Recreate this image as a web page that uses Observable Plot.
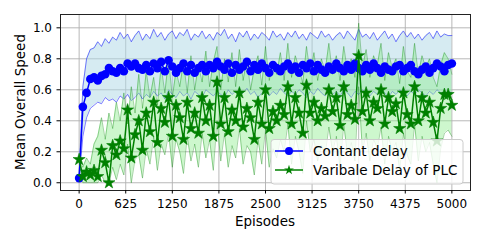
<!DOCTYPE html>
<html><head><meta charset="utf-8">
<script src="https://cdn.jsdelivr.net/npm/d3@7"></script>
<script src="https://cdn.jsdelivr.net/npm/@observablehq/plot@0.6"></script>
<style>body{margin:0;background:#fff;} svg{display:block}</style>
</head><body><div id="chart"></div>
<script>
const episodes = d3.range(0, 5001, 50);
const xTicks = [0, 625, 1250, 1875, 2500, 3125, 3750, 4375, 5000];
const yTicks = [0, 0.2, 0.4, 0.6, 0.8, 1.0];

const blueMean = [0.03,0.49,0.58,0.67,0.68,0.66,0.69,0.70,0.74,0.72,0.71,0.74,0.72,0.77,0.75,0.77,0.74,0.73,0.76,0.72,0.77,0.74,0.78,0.72,0.79,0.75,0.71,0.74,0.77,0.72,0.76,0.71,0.74,0.76,0.72,0.76,0.74,0.78,0.75,0.73,0.77,0.71,0.76,0.73,0.75,0.78,0.72,0.76,0.73,0.77,0.74,0.71,0.76,0.74,0.72,0.75,0.77,0.73,0.75,0.71,0.76,0.74,0.77,0.72,0.76,0.73,0.71,0.75,0.73,0.77,0.74,0.72,0.76,0.73,0.77,0.74,0.72,0.76,0.73,0.77,0.74,0.71,0.75,0.73,0.72,0.75,0.76,0.72,0.74,0.76,0.72,0.70,0.73,0.75,0.71,0.74,0.77,0.75,0.72,0.76,0.77];
const blueHi = [0.05,0.62,0.80,0.86,0.87,0.91,0.88,0.93,0.90,0.94,0.92,0.97,0.93,0.96,0.91,0.95,0.98,0.92,0.96,0.93,0.99,0.94,0.97,0.92,0.96,0.98,0.93,0.97,0.95,0.99,0.92,0.96,0.94,0.98,0.93,0.96,0.92,0.97,0.95,0.99,0.93,0.96,0.91,0.97,0.94,0.98,0.92,0.96,0.93,0.97,0.95,0.92,0.98,0.94,0.96,0.92,0.97,0.94,0.98,0.93,0.96,0.92,0.97,0.95,0.93,0.98,0.94,0.96,0.92,0.95,0.97,0.93,0.98,0.95,0.92,0.99,0.94,0.96,0.93,0.97,0.92,0.95,0.98,0.93,0.96,0.91,0.95,0.98,0.94,0.97,0.93,0.96,0.92,0.95,0.97,0.93,0.98,0.94,0.96,0.95,0.95];
const blueLo = [0.02,0.30,0.42,0.48,0.50,0.52,0.51,0.55,0.53,0.54,0.52,0.56,0.54,0.57,0.53,0.55,0.58,0.54,0.57,0.55,0.59,0.56,0.58,0.54,0.60,0.57,0.55,0.59,0.56,0.58,0.54,0.59,0.57,0.55,0.60,0.58,0.56,0.59,0.57,0.55,0.60,0.57,0.59,0.56,0.58,0.61,0.57,0.59,0.55,0.58,0.60,0.56,0.59,0.57,0.61,0.58,0.56,0.59,0.57,0.60,0.58,0.55,0.59,0.57,0.61,0.58,0.56,0.60,0.57,0.59,0.56,0.60,0.58,0.55,0.59,0.57,0.60,0.58,0.56,0.59,0.57,0.60,0.58,0.55,0.59,0.57,0.60,0.58,0.56,0.59,0.57,0.60,0.58,0.56,0.59,0.57,0.60,0.58,0.56,0.59,0.58];
const greenMean = [0.15,0.04,0.07,0.05,0.08,0.04,0.21,0.13,0.00,0.24,0.18,0.27,0.22,0.47,0.16,0.31,0.40,0.21,0.45,0.33,0.52,0.26,0.48,0.39,0.55,0.30,0.50,0.42,0.28,0.52,0.35,0.45,0.32,0.55,0.40,0.50,0.30,0.65,0.38,0.55,0.33,0.47,0.40,0.58,0.36,0.48,0.42,0.28,0.52,0.38,0.60,0.35,0.46,0.40,0.50,0.44,0.62,0.38,0.55,0.45,0.32,0.63,0.45,0.52,0.40,0.48,0.43,0.60,0.46,0.55,0.37,0.62,0.44,0.50,0.41,0.82,0.46,0.58,0.40,0.52,0.48,0.60,0.38,0.55,0.46,0.51,0.35,0.58,0.44,0.38,0.62,0.40,0.55,0.45,0.52,0.39,0.27,0.48,0.57,0.57,0.50];
const greenHi = [0.17,0.10,0.16,0.12,0.25,0.30,0.42,0.28,0.45,0.35,0.52,0.40,0.58,0.38,0.62,0.45,0.70,0.48,0.72,0.55,0.68,0.50,0.75,0.58,0.80,0.55,0.72,0.62,0.78,0.58,0.82,0.60,0.76,0.65,0.85,0.62,0.78,0.88,0.60,0.80,0.65,0.84,0.62,0.86,0.66,0.80,0.60,0.74,0.82,0.63,0.88,0.66,0.78,0.70,0.84,0.66,0.90,0.68,0.82,0.74,0.64,0.88,0.70,0.84,0.66,0.80,0.72,0.90,0.70,0.82,0.66,0.88,0.72,0.80,0.68,1.03,0.74,0.86,0.68,0.82,0.76,0.90,0.66,0.84,0.74,0.80,0.64,0.88,0.72,0.68,0.90,0.70,0.82,0.74,0.80,0.68,0.62,0.76,0.84,0.80,0.70];
const greenLo = [0.13,0.00,0.00,0.00,0.00,0.00,0.05,0.00,0.00,0.10,0.02,0.12,0.05,0.25,0.00,0.15,0.18,0.03,0.22,0.12,0.30,0.08,0.25,0.18,0.32,0.10,0.28,0.20,0.06,0.30,0.14,0.25,0.10,0.32,0.16,0.28,0.08,0.40,0.14,0.32,0.10,0.24,0.16,0.35,0.12,0.24,0.20,0.05,0.28,0.12,0.35,0.10,0.22,0.16,0.28,0.20,0.38,0.12,0.30,0.20,0.06,0.40,0.20,0.28,0.14,0.24,0.18,0.36,0.20,0.30,0.10,0.38,0.18,0.26,0.14,0.62,0.20,0.32,0.14,0.28,0.22,0.36,0.12,0.30,0.20,0.26,0.08,0.32,0.18,0.12,0.38,0.14,0.30,0.20,0.26,0.12,0.00,0.22,0.32,0.34,0.30];

const rows = episodes.map((ep, i) => ({
  ep, bM: blueMean[i], bH: blueHi[i], bL: blueLo[i],
  gM: greenMean[i], gH: greenHi[i], gL: greenLo[i]
}));

const BLUE = "#0000ff", GREEN = "#008000";
const chart = Plot.plot({
  width: 485, height: 241,
  marginLeft: 60, marginRight: 15, marginTop: 14, marginBottom: 51,
  style: {fontFamily: "DejaVu Sans", fontSize: "12px", background: "#fff", color: "#000"},
  x: {domain: [-250, 5250]},
  y: {domain: [-0.05, 1.086]},
  marks: [
    Plot.gridX(xTicks, {stroke: "#b0b0b0", strokeOpacity: 1, strokeWidth: 0.9}),
    Plot.gridY(yTicks, {stroke: "#b0b0b0", strokeOpacity: 1, strokeWidth: 0.9}),
    Plot.areaY(rows, {x: "ep", y1: "bL", y2: "bH", fill: "#add8e6", fillOpacity: 0.5}),
    Plot.line(rows, {x: "ep", y: "bH", stroke: BLUE, strokeOpacity: 0.5, strokeWidth: 1}),
    Plot.line(rows, {x: "ep", y: "bL", stroke: BLUE, strokeOpacity: 0.5, strokeWidth: 1}),
    Plot.areaY(rows, {x: "ep", y1: "gL", y2: "gH", fill: "#90ee90", fillOpacity: 0.45}),
    Plot.line(rows, {x: "ep", y: "gH", stroke: GREEN, strokeOpacity: 0.35, strokeWidth: 1}),
    Plot.line(rows, {x: "ep", y: "gL", stroke: GREEN, strokeOpacity: 0.35, strokeWidth: 1}),
    Plot.line(rows, {x: "ep", y: "bM", stroke: BLUE, strokeWidth: 1.5}),
    Plot.dot(rows, {x: "ep", y: "bM", r: 4.3, fill: BLUE, stroke: "none"}),
    Plot.line(rows, {x: "ep", y: "gM", stroke: GREEN, strokeWidth: 1.5}),
    Plot.dot(rows, {x: "ep", y: "gM", r: 3.8, symbol: "star", fill: GREEN, stroke: GREEN, strokeWidth: 0.6}),
    Plot.frame({stroke: "#222", strokeWidth: 1}),
    Plot.axisX(xTicks, {tickSize: 3.5, tickPadding: 5.5, label: null, fontSize: 12, tickFormat: d3.format("d")}),
    Plot.axisY(yTicks, {tickSize: 3.5, tickPadding: 5, label: null, fontSize: 12, tickFormat: d3.format(".1f")})
  ]
});
document.getElementById("chart").appendChild(chart);

const svg = d3.select(chart);
svg.append("text").attr("x", 265).attr("y", 226).attr("text-anchor", "middle")
  .attr("font-family", "DejaVu Sans").attr("font-size", 13.5).attr("fill", "#000").text("Episodes");
svg.append("text").attr("transform", "translate(24.5,102) rotate(-90)").attr("text-anchor", "middle")
  .attr("font-family", "DejaVu Sans").attr("font-size", 13.5).attr("fill", "#000").text("Mean Overall Speed");

const lg = svg.append("g").attr("font-family", "DejaVu Sans").attr("font-size", 13.5).attr("text-anchor", "start");
lg.append("rect").attr("x", 271).attr("y", 139.5).attr("width", 192).attr("height", 44.5).attr("rx", 3)
  .attr("fill", "#fff").attr("fill-opacity", 0.8).attr("stroke", "#ccc").attr("stroke-width", 1);
const legendItems = [
  {label: "Contant delay", color: BLUE, sym: d3.symbolCircle, size: 50, y: 151},
  {label: "Varibale Delay of PLC", color: GREEN, sym: d3.symbolStar, size: 30, y: 170}
];
legendItems.forEach(d => {
  lg.append("line").attr("x1", 275).attr("x2", 303).attr("y1", d.y).attr("y2", d.y)
    .attr("stroke", d.color).attr("stroke-width", 1.5);
  lg.append("path").attr("d", d3.symbol(d.sym, d.size)()).attr("transform", `translate(289,${d.y})`)
    .attr("fill", d.color);
  lg.append("text").attr("x", 313).attr("y", d.y + 4.8).attr("text-anchor", "start").attr("fill", "#000").text(d.label);
});
</script></body></html>
